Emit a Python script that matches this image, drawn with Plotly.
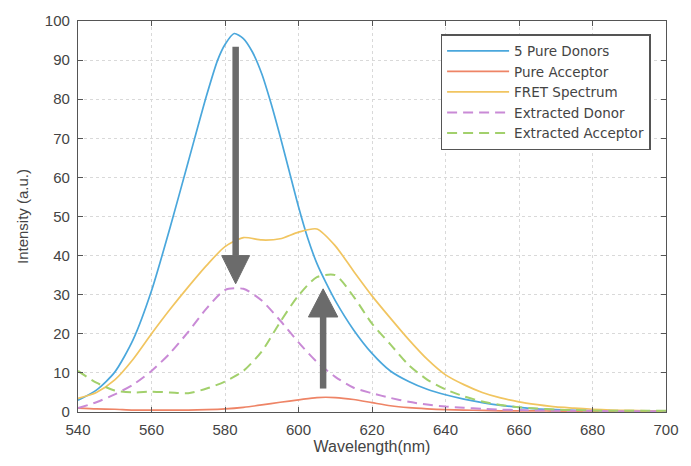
import plotly.graph_objects as go

# ---- data ----
wavelength = [540, 545, 550, 555, 560, 565, 570, 575, 580, 585, 590, 595, 600, 605, 610,
              615, 620, 625, 630, 635, 640, 645, 650, 655, 660, 665, 670, 675, 680, 685,
              690, 695, 700]
donor_wavelength = [540, 545, 550, 555, 560, 565, 570, 575, 578, 580, 582.5, 585, 587.5, 590,
                    592.5, 595, 597.5, 600, 602.5, 605, 607.5, 610, 615, 620, 625, 630, 635,
                    640, 645, 650, 655, 660, 665, 670, 680, 690, 700]
pure_donors = [3, 5.6, 10.2, 18.5, 31, 47, 64, 81, 90, 94, 96.8, 95.5, 92, 86.5,
               79, 70.5, 61.5, 52.5, 44.5, 38, 33, 28.5, 21, 15, 10.5, 7.8, 5.8,
               4.4, 3.3, 2.4, 1.7, 1.2, 0.8, 0.6, 0.3, 0.2, 0.1]
pure_acceptor = [1, 0.8, 0.7, 0.5, 0.5, 0.5, 0.5, 0.6, 0.8, 1.2, 1.8, 2.5, 3.1, 3.7, 3.7,
                 3.2, 2.4, 1.6, 1.1, 0.8, 0.6, 0.5, 0.4, 0.3, 0.3, 0.3, 0.2, 0.2, 0.2, 0.2,
                 0.2, 0.2, 0.2]
fret_spectrum = [3.5, 5, 8.2, 13.5, 20, 26.2, 32, 37.5, 42.3, 44.6, 44, 44.3, 46, 46.8, 42.5,
                 36, 29.7, 24, 18.5, 13.5, 9.5, 7, 5, 3.6, 2.6, 1.9, 1.3, 1, 0.7, 0.5,
                 0.4, 0.3, 0.2]
extracted_donor = [1, 2.5, 4.5, 7, 10.5, 15, 20.5, 26.5, 31.2, 31.5, 28.5, 23.4, 17.8, 12.8, 9,
                   6.2, 4.8, 3.6, 2.6, 1.9, 1.4, 1.1, 0.8, 0.6, 0.5, 0.4, 0.3, 0.3, 0.3, 0.2,
                   0.2, 0.2, 0.2]
extracted_acceptor = [10.5, 7.5, 5.5, 5, 5.2, 5, 4.8, 6, 7.8, 10.5, 15.5, 23, 29.8, 34.5, 35,
                      29.5, 22.6, 17.3, 12, 8.3, 5.8, 4, 2.7, 1.8, 1.2, 0.9, 0.6, 0.5, 0.4, 0.3,
                      0.3, 0.3, 0.3]

series_names = ["5 Pure Donors", "Pure Acceptor", "FRET Spectrum",
                "Extracted Donor", "Extracted Acceptor"]
series_x = [donor_wavelength, wavelength, wavelength, wavelength, wavelength]
series_values = [pure_donors, pure_acceptor, fret_spectrum, extracted_donor, extracted_acceptor]
series_colors = ["#4aa7dc", "#ee8466", "#f1c560", "#c98ad6", "#a2d06c"]
series_dash = ["solid", "solid", "solid", "10px,6px", "10px,6px"]
series_width = [1.7, 1.7, 1.7, 2.0, 2.0]

# arrows: (x, shaft start y, head base y, tip y, head half-width in nm)
arrows = [(582.9, 93.4, 40.0, 32.8, 3.8),
          (606.7, 6.0, 24.3, 31.5, 4.0)]
arrow_color = "#6b6b6b"

x_ticks = [540, 560, 580, 600, 620, 640, 660, 680, 700]
y_ticks = [0, 10, 20, 30, 40, 50, 60, 70, 80, 90, 100]

fig = go.Figure()
for name, xs, vals, col, dash, w in zip(series_names, series_x, series_values, series_colors,
                                        series_dash, series_width):
    fig.add_trace(go.Scatter(x=xs, y=vals, name=name, mode="lines",
                             line=dict(color=col, dash=dash, width=w, shape="spline",
                                       smoothing=0.7)))

shapes = []
for ax, y0, yb, ytip, hw in arrows:
    shapes.append(dict(type="line", xref="x", yref="y", x0=ax, x1=ax, y0=y0, y1=yb,
                       line=dict(color=arrow_color, width=6.5)))
    shapes.append(dict(type="path", xref="x", yref="y",
                       path=f"M{ax - hw},{yb} L{ax + hw},{yb} L{ax},{ytip} Z",
                       fillcolor=arrow_color, line=dict(color=arrow_color, width=1)))

font_family = "Liberation Sans, Arial, sans-serif"
axis_common = dict(showline=True, linecolor="#555555", linewidth=1.3, mirror="ticks",
                   ticks="inside", ticklen=5, tickcolor="#555555",
                   showgrid=True, gridcolor="#d9d9d9", griddash="dot", gridwidth=1,
                   zeroline=False, tickfont=dict(size=15, color="#444444"))

fig.update_layout(
    width=691, height=466,
    margin=dict(l=78, r=16, t=19, b=54),
    paper_bgcolor="white", plot_bgcolor="white",
    font=dict(family=font_family, color="#444444"),
    shapes=shapes,
    showlegend=True,
    legend=dict(x=0.617, y=0.966, xanchor="left", yanchor="top",
                bgcolor="white", bordercolor="#555555", borderwidth=1.3,
                font=dict(family="DejaVu Sans, sans-serif", size=13.5, color="#444444"),
                itemwidth=62, tracegroupgap=0),
)
fig.update_xaxes(range=[540, 700], tickvals=x_ticks, ticklabelstandoff=4,
                 title=dict(text="Wavelength(nm)", font=dict(size=16, color="#444444"),
                            standoff=2),
                 **axis_common)
fig.update_yaxes(range=[0, 100], tickvals=y_ticks, ticklabelstandoff=4,
                 title=dict(text="Intensity (a.u.)", font=dict(size=15, color="#444444"),
                            standoff=12),
                 **axis_common)

fig.write_html("out.html")
